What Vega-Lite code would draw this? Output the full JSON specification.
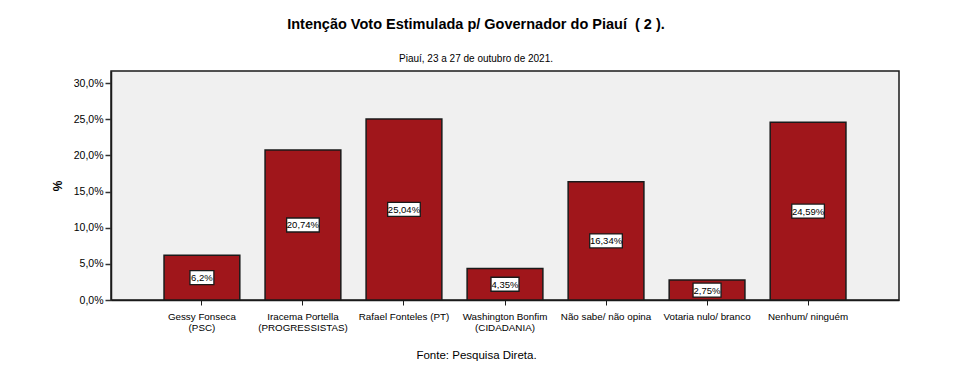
{
  "$schema": "https://vega.github.io/schema/vega-lite/v6.json",
  "width": 788,
  "height": 229,
  "autosize": {"type": "none"},
  "padding": {"left": 111, "top": 71, "right": 59, "bottom": 76},
  "background": "white",
  "config": {
    "font": "Liberation Sans",
    "view": {"fill": "#f0f0f0", "stroke": "#1a1a1a", "strokeWidth": 1.5}
  },
  "title": {
    "text": "Intenção Voto Estimulada p/ Governador do Piauí\u00a0 ( 2 ).",
    "subtitle": "Piauí, 23 a 27 de outubro de 2021.",
    "anchor": "middle",
    "dx": -29,
    "fontSize": 14.5,
    "fontWeight": "bold",
    "color": "#000000",
    "subtitleFontSize": 10,
    "subtitleColor": "#000000",
    "subtitlePadding": 22,
    "offset": 6
  },
  "data": {
    "values": [
      {"cand": "Gessy Fonseca|(PSC)", "v": 6.2, "label": "6,2%"},
      {"cand": "Iracema Portella|(PROGRESSISTAS)", "v": 20.74, "label": "20,74%"},
      {"cand": "Rafael Fonteles (PT)", "v": 25.04, "label": "25,04%"},
      {"cand": "Washington Bonfim|(CIDADANIA)", "v": 4.35, "label": "4,35%"},
      {"cand": "Não sabe/ não opina", "v": 16.34, "label": "16,34%"},
      {"cand": "Votaria nulo/ branco", "v": 2.75, "label": "2,75%"},
      {"cand": "Nenhum/ ninguém", "v": 24.59, "label": "24,59%"}
    ]
  },
  "transform": [
    {"calculate": "datum.v / 2", "as": "mid"},
    {"calculate": "length(datum.label)", "as": "len"}
  ],
  "encoding": {
    "x": {
      "field": "cand",
      "type": "nominal",
      "sort": null,
      "scale": {"paddingInner": 0.25, "paddingOuter": 0.525},
      "axis": {
        "title": "Fonte: Pesquisa Direta.",
        "titleFontSize": 11.5,
        "titleFontWeight": "normal",
        "titleColor": "#000000",
        "titleX": 365,
        "titleY": 55,
        "titleBaseline": "middle",
        "labelAngle": 0,
        "labelLimit": 0,
        "labelFontSize": 9.8,
        "labelColor": "#000000",
        "labelPadding": 6,
        "labelLineHeight": 11,
        "labelOverlap": false,
        "labelExpr": "split(datum.value, '|')",
        "tickColor": "#1a1a1a",
        "tickSize": 5,
        "domainColor": "#1a1a1a",
        "domainWidth": 1.5
      }
    },
    "y": {
      "field": "v",
      "type": "quantitative",
      "scale": {"domain": [0, 31.66], "nice": false},
      "axis": {
        "title": "%",
        "titleFontSize": 12,
        "titleFontWeight": "bold",
        "titleColor": "#000000",
        "titlePadding": 9,
        "values": [0, 5, 10, 15, 20, 25, 30],
        "labelOverlap": false,
        "labelExpr": "replace(format(datum.value, '.1f'), '.', ',') + '%'",
        "labelFontSize": 10.5,
        "labelColor": "#000000",
        "grid": false,
        "tickColor": "#333333",
        "tickSize": 6,
        "tickWidth": 1.5,
        "domainColor": "#1a1a1a",
        "domainWidth": 1.5
      }
    }
  },
  "layer": [
    {
      "mark": {"type": "bar", "color": "#a0161b", "stroke": "#1a1a1a", "strokeWidth": 1.5}
    },
    {
      "mark": {"type": "point", "filled": true, "fill": "white", "stroke": "#1a1a1a", "strokeWidth": 1.3, "opacity": 1, "size": 196},
      "encoding": {
        "y": {"field": "mid", "type": "quantitative"},
        "shape": {
          "field": "len",
          "type": "nominal",
          "legend": null,
          "scale": {
            "domain": [4, 5, 6],
            "range": [
              "M-1.71,-1H1.71V1H-1.71Z",
              "M-2,-1H2V1H-2Z",
              "M-2.33,-1H2.33V1H-2.33Z"
            ]
          }
        }
      }
    },
    {
      "mark": {"type": "text", "fontSize": 9.5, "color": "#000000", "baseline": "middle", "dy": 0.5},
      "encoding": {
        "y": {"field": "mid", "type": "quantitative"},
        "text": {"field": "label"}
      }
    }
  ]
}
